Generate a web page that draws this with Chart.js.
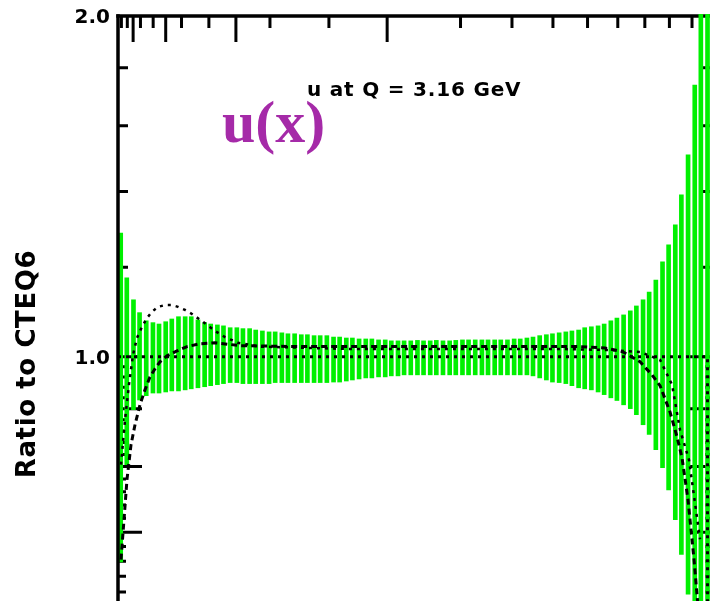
<!DOCTYPE html>
<html>
<head>
<meta charset="utf-8">
<script src="https://cdn.jsdelivr.net/npm/chart.js@4.4.0/dist/chart.umd.min.js"></script>
<style>
  html, body { margin: 0; padding: 0; background: #fff; overflow: hidden; }
  #wrap { width: 730px; height: 640px; }
</style>
</head>
<body>
<div id="wrap"><canvas id="ratioChart" width="730" height="640"></canvas></div>
<script>
// x axis is drawn in x^(1/3); values below are x^(1/3) of each error bar
const xRoot = [
  0.026, 0.036, 0.047, 0.057, 0.068, 0.079, 0.089, 0.100, 0.110, 0.121,
  0.132, 0.142, 0.153, 0.164, 0.174, 0.185, 0.195, 0.206, 0.217, 0.227,
  0.238, 0.248, 0.259, 0.270, 0.280, 0.291, 0.301, 0.312, 0.323, 0.333,
  0.344, 0.354, 0.365, 0.376, 0.386, 0.397, 0.407, 0.418, 0.429, 0.439,
  0.450, 0.461, 0.471, 0.482, 0.492, 0.503, 0.514, 0.524, 0.535, 0.545,
  0.556, 0.567, 0.577, 0.588, 0.598, 0.609, 0.620, 0.630, 0.641, 0.651,
  0.662, 0.673, 0.683, 0.694, 0.704, 0.715, 0.726, 0.736, 0.747, 0.758,
  0.768, 0.779, 0.789, 0.800, 0.811, 0.821, 0.832, 0.842, 0.853, 0.864,
  0.874, 0.885, 0.895, 0.906, 0.917, 0.927, 0.938, 0.948, 0.959, 0.970,
  0.980, 0.991
];
const bandHigh = [
  1.286, 1.174, 1.123, 1.094, 1.076, 1.072, 1.069, 1.074, 1.080, 1.085,
  1.085, 1.085, 1.078, 1.072, 1.069, 1.067, 1.065, 1.061, 1.061, 1.059,
  1.059, 1.056, 1.054, 1.052, 1.052, 1.050, 1.048, 1.048, 1.046, 1.046,
  1.044, 1.044, 1.044, 1.041, 1.041, 1.039, 1.039, 1.037, 1.037, 1.037,
  1.035, 1.035, 1.033, 1.033, 1.033, 1.033, 1.034, 1.033, 1.033, 1.034,
  1.033, 1.033, 1.034, 1.035, 1.035, 1.035, 1.035, 1.035, 1.035, 1.035,
  1.035, 1.037, 1.037, 1.039, 1.041, 1.044, 1.046, 1.048, 1.050, 1.052,
  1.054, 1.056, 1.061, 1.063, 1.065, 1.069, 1.076, 1.082, 1.089, 1.098,
  1.109, 1.123, 1.141, 1.169, 1.213, 1.256, 1.308, 1.390, 1.508, 1.738,
  2.30, 2.60
];
const bandLow = [
  0.659, 0.803, 0.898, 0.916, 0.924, 0.929, 0.929, 0.931, 0.933, 0.933,
  0.935, 0.937, 0.939, 0.941, 0.943, 0.945, 0.947, 0.949, 0.949, 0.947,
  0.947, 0.947, 0.947, 0.947, 0.949, 0.949, 0.949, 0.949, 0.949, 0.949,
  0.949, 0.949, 0.949, 0.950, 0.950, 0.952, 0.954, 0.956, 0.958, 0.958,
  0.960, 0.960, 0.962, 0.962, 0.964, 0.964, 0.964, 0.964, 0.964, 0.964,
  0.964, 0.964, 0.964, 0.964, 0.964, 0.964, 0.964, 0.964, 0.964, 0.964,
  0.964, 0.964, 0.964, 0.964, 0.962, 0.958, 0.954, 0.950, 0.949, 0.947,
  0.943, 0.939, 0.937, 0.935, 0.931, 0.926, 0.920, 0.915, 0.907, 0.900,
  0.889, 0.871, 0.854, 0.828, 0.798, 0.763, 0.718, 0.669, 0.617, 0.563,
  0.50, 0.44
];

// dotted curve with the bump at small x
const dottedX = [0.0265, 0.0331, 0.0396, 0.0462, 0.0528, 0.0610, 0.0692, 0.0775, 0.0873, 0.0988,
  0.1103, 0.1202, 0.1317, 0.1432, 0.1547, 0.1662, 0.1811, 0.1975, 0.2189, 0.2551,
  0.4030, 0.5675, 0.7484, 0.8306, 0.8800, 0.9129, 0.9326, 0.9458, 0.9605, 0.9787];
const dottedY = [0.803, 0.880, 0.945, 1.004, 1.039, 1.063, 1.082, 1.096, 1.107, 1.111,
  1.111, 1.107, 1.100, 1.091, 1.080, 1.069, 1.054, 1.041, 1.029, 1.021,
  1.016, 1.016, 1.016, 1.014, 1.010, 0.994, 0.945, 0.862, 0.811, 0.690];

// dashed curve (rises at small x, falls at large x)
const dashedX = [0.0265, 0.0314, 0.0363, 0.0429, 0.0495, 0.0577, 0.0659, 0.0741, 0.0824, 0.0906,
  0.1021, 0.1186, 0.1350, 0.1564, 0.1811, 0.2222, 0.3208, 0.4853, 0.6497, 0.7813,
  0.8224, 0.8388, 0.8520, 0.8635, 0.8800, 0.8997, 0.9129, 0.9293, 0.9408, 0.9491,
  0.9589, 0.9688, 0.9787];
const dashedY = [0.662, 0.718, 0.779, 0.836, 0.871, 0.907, 0.935, 0.960, 0.976, 0.990,
  1.002, 1.012, 1.021, 1.027, 1.029, 1.023, 1.021, 1.021, 1.021, 1.021,
  1.018, 1.014, 1.010, 1.002, 0.990, 0.964, 0.943, 0.894, 0.850, 0.814,
  0.748, 0.662, 0.574];

// reference CTEQ6 / CTEQ6 = 1
const refX = [0.02154, 0.991, 0.991];
const refY = [1.0, 1.0, 0.45];

// axis ticks (in x, converted to x^(1/3) when drawn)
const xTicksLong = [1e-4, 1e-3, 1e-2, 1e-1];
const xTicksShort = [2e-5, 5e-5, 2e-4, 5e-4, 2e-3, 5e-3, 0.02, 0.05, 0.2, 0.3, 0.4, 0.5, 0.6, 0.7, 0.8, 0.9];
const yTicksLong = [0.6, 0.7, 0.8, 0.9, 1.0];
const yTicksMid = [1.2, 1.4, 1.6, 1.8];
const yTicksShort = [0.62, 0.64, 0.66, 0.68, 0.72, 0.74, 0.76, 0.78, 0.82, 0.84, 0.86, 0.88, 0.92, 0.94, 0.96, 0.98];
const yLabelValues = [2.0, 1.0];
const yLabelText = ["2.0", "1.0"];

function pairs(xs, ys) {
  return xs.map((v, i) => ({ x: v, y: ys[i] }));
}

const frame = {
  id: "frame",
  beforeDatasetsDraw(chart) {
    const { ctx, chartArea: a, scales: { x, y } } = chart;
    ctx.save();
    ctx.strokeStyle = "#000";
    ctx.lineWidth = 3.5;
    ctx.beginPath();
    ctx.moveTo(a.left - 1.75, a.top);
    ctx.lineTo(a.right, a.top);
    ctx.moveTo(a.right, a.top);
    ctx.lineTo(a.right, a.bottom);
    ctx.stroke();

    ctx.lineWidth = 3;
    ctx.beginPath();
    xTicksLong.forEach(v => {
      const px = x.getPixelForValue(Math.cbrt(v));
      ctx.moveTo(px, a.top); ctx.lineTo(px, a.top + 26);
    });
    xTicksShort.forEach(v => {
      const px = x.getPixelForValue(Math.cbrt(v));
      ctx.moveTo(px, a.top); ctx.lineTo(px, a.top + 12);
    });
    const yTick = (list, len) => list.forEach(v => {
      const py = y.getPixelForValue(v);
      ctx.moveTo(a.left, py); ctx.lineTo(a.left + len, py);
      ctx.moveTo(a.right, py); ctx.lineTo(a.right - len, py);
    });
    yTick(yTicksLong, 24);
    yTick(yTicksMid, 10);
    yTick(yTicksShort, 8);
    ctx.stroke();
    ctx.restore();
  },
  afterDatasetsDraw(chart) {
    const { ctx, chartArea: a } = chart;
    ctx.save();
    ctx.strokeStyle = "#000";
    ctx.lineWidth = 3.5;
    ctx.beginPath();
    ctx.moveTo(a.left, a.top - 1.75);
    ctx.lineTo(a.left, a.bottom);
    ctx.stroke();
    ctx.restore();
  },
  afterDraw(chart) {
    const { ctx, chartArea: a, scales: { y } } = chart;
    ctx.save();
    ctx.fillStyle = "#000";

    ctx.font = 'bold 20px "DejaVu Sans"';
    ctx.textAlign = "right";
    ctx.textBaseline = "middle";
    yLabelValues.forEach((v, i) => {
      ctx.fillText(yLabelText[i], a.left - 8, y.getPixelForValue(v) + 2);
    });

    // axis title
    ctx.save();
    ctx.translate(35, 364);
    ctx.rotate(-Math.PI / 2);
    ctx.textAlign = "center";
    ctx.textBaseline = "alphabetic";
    ctx.font = 'bold 26px "DejaVu Sans"';
    ctx.letterSpacing = "0.6px";
    ctx.fillText("Ratio to CTEQ6", 0, 0);
    ctx.restore();

    ctx.textAlign = "left";
    ctx.textBaseline = "alphabetic";
    ctx.font = 'bold 20px "DejaVu Sans"';
    ctx.letterSpacing = "0.8px";
    ctx.fillText("u at Q = 3.16 GeV", 307, 96);

    ctx.letterSpacing = "0px";
    ctx.fillStyle = "#a52aa8";
    ctx.font = 'bold 60px "Liberation Serif"';
    ctx.fillText("u(x)", 222, 142);
    ctx.restore();
  }
};

const ctx = document.getElementById("ratioChart").getContext("2d");

new Chart(ctx, {
  type: "bar",
  data: {
    datasets: [
      {
        type: "line",
        data: pairs(refX, refY),
        borderColor: "#000",
        borderWidth: 3,
        borderDash: [3, 5],
        pointRadius: 0,
        fill: false,
        order: 0
      },
      {
        type: "line",
        data: pairs(dottedX, dottedY),
        borderColor: "#000",
        borderWidth: 2.5,
        borderDash: [3, 5],
        pointRadius: 0,
        fill: false,
        order: 0
      },
      {
        type: "line",
        data: pairs(dashedX, dashedY),
        borderColor: "#000",
        borderWidth: 3,
        borderDash: [6, 4],
        pointRadius: 0,
        fill: false,
        order: 0
      },
      {
        type: "bar",
        data: xRoot.map((v, i) => ({ x: v, y: [bandLow[i], bandHigh[i]] })),
        backgroundColor: "#00f000",
        borderWidth: 0,
        barThickness: 4,
        clip: { left: 0, top: 2, right: 10, bottom: 0 },
        order: 1
      }
    ]
  },
  options: {
    responsive: false,
    animation: false,
    layout: { padding: { left: 118, top: 16, right: 17, bottom: 32 } },
    scales: {
      x: { type: "linear", min: Math.cbrt(1e-5), max: 1, offset: false, display: false },
      y: { type: "logarithmic", min: 0.6, max: 2.0, display: false }
    },
    plugins: {
      legend: { display: false },
      tooltip: { enabled: false },
      title: { display: false }
    }
  },
  plugins: [frame]
});
</script>
</body>
</html>
